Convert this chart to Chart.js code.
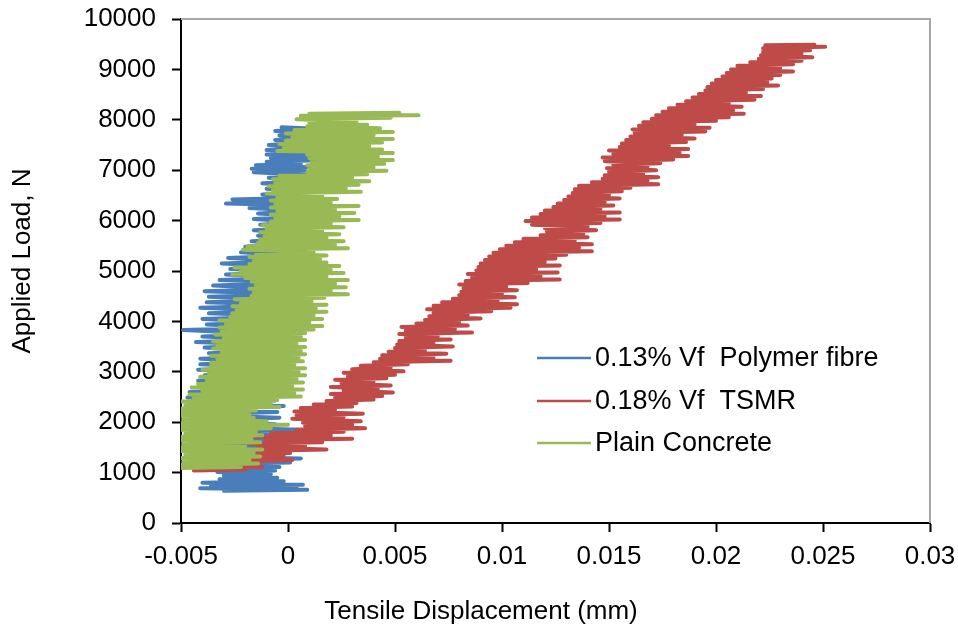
<!DOCTYPE html>
<html>
<head>
<meta charset="utf-8">
<title>Applied load vs tensile displacement</title>
<script src="https://cdn.jsdelivr.net/npm/chart.js@4.4.0/dist/chart.umd.min.js"></script>
<style>
  html, body { margin: 0; padding: 0; background: #fff; }
  #wrap { width: 958px; height: 629px; }
</style>
</head>
<body>
<div id="wrap"><canvas id="loadChart" width="958" height="629"></canvas></div>
<script>
// axis ticks
const xTickValues = [-0.005, 0, 0.005, 0.01, 0.015, 0.02, 0.025, 0.03];
const xTickLabels = ['-0.005', '0', '0.005', '0.01', '0.015', '0.02', '0.025', '0.03'];
const yTickValues = [0, 1000, 2000, 3000, 4000, 5000, 6000, 7000, 8000, 9000, 10000];

const seriesNames = ['0.13% Vf  Polymer fibre', '0.18% Vf  TSMR', 'Plain Concrete'];
const xTitle = 'Tensile Displacement (mm)';
const yTitle = 'Applied Load, N';

// [tensile displacement (mm), applied load (N)]
const polymerFibre = [
  [-0.0030, 640], [0.0009, 660], [-0.0041, 690], [0.0004, 710], [-0.0036, 740], [0.0007, 760],
  [-0.0040, 800], [-0.0002, 830], [-0.0032, 870], [-0.0005, 900], [-0.0030, 940], [-0.0008, 970],
  [-0.0033, 1010], [-0.0006, 1040], [-0.0040, 1080], [-0.0004, 1110], [-0.0045, 1160], [0.0001, 1200],
  [-0.0042, 1240], [0.0006, 1280], [-0.0046, 1330], [-0.0002, 1370], [-0.0043, 1420], [-0.0004, 1460],
  [-0.0046, 1510], [-0.0002, 1550], [-0.0044, 1600], [-0.0005, 1640], [-0.0047, 1700], [-0.0003, 1750],
  [-0.0045, 1800], [0.0007, 1850], [-0.0048, 1910], [-0.0006, 1960], [-0.0046, 2040], [-0.0004, 2090],
  [-0.0047, 2150], [-0.0005, 2200], [-0.0045, 2260], [-0.0002, 2320], [-0.0046, 2380], [-0.0006, 2430],
  [-0.0047, 2490], [-0.0004, 2540], [-0.0046, 2600], [-0.0002, 2650], [-0.0040, 2710], [-0.0006, 2760],
  [-0.0042, 2820], [-0.0004, 2870], [-0.0039, 2930], [-0.0008, 2980], [-0.0042, 3040], [-0.0006, 3090],
  [-0.0041, 3150], [-0.0010, 3200], [-0.0041, 3260], [-0.0008, 3310], [-0.0037, 3370], [-0.0010, 3420],
  [-0.0039, 3480], [-0.0008, 3530], [-0.0043, 3590], [-0.0005, 3640], [-0.0040, 3700], [-0.0008, 3750],
  [-0.0049, 3830], [-0.0004, 3880], [-0.0038, 3940], [-0.0006, 3990], [-0.0040, 4050], [0.0001, 4100],
  [-0.0037, 4160], [-0.0002, 4210], [-0.0041, 4270], [0.0002, 4320], [-0.0038, 4380], [-0.0001, 4430],
  [-0.0037, 4490], [0.0004, 4540], [-0.0039, 4600], [0.0000, 4650], [-0.0035, 4710], [0.0006, 4760],
  [-0.0032, 4820], [0.0002, 4870], [-0.0029, 4930], [0.0005, 4980], [-0.0027, 5040], [0.0001, 5090],
  [-0.0031, 5150], [0.0006, 5200], [-0.0028, 5260], [0.0003, 5310], [-0.0022, 5370], [0.0008, 5420],
  [-0.0020, 5480], [0.0004, 5530], [-0.0017, 5590], [0.0010, 5640], [-0.0014, 5700], [0.0006, 5750],
  [-0.0016, 5810], [0.0011, 5860], [-0.0013, 5920], [0.0008, 5970], [-0.0016, 6030], [0.0012, 6080],
  [-0.0014, 6140], [0.0010, 6190], [-0.0018, 6250], [0.0013, 6300], [-0.0029, 6340], [0.0006, 6380],
  [-0.0026, 6420], [0.0012, 6460], [-0.0012, 6520], [0.0014, 6570], [-0.0010, 6630], [0.0010, 6680],
  [-0.0012, 6740], [0.0016, 6790], [-0.0009, 6850], [0.0012, 6900], [-0.0016, 6960], [0.0008, 6990],
  [-0.0017, 7030], [0.0010, 7060], [-0.0015, 7100], [0.0006, 7130], [-0.0010, 7170], [0.0018, 7200],
  [-0.0008, 7240], [0.0014, 7270], [-0.0010, 7310], [0.0018, 7340], [-0.0010, 7400], [0.0012, 7450],
  [-0.0009, 7500], [0.0010, 7550], [-0.0006, 7600], [0.0014, 7640], [-0.0004, 7690], [0.0012, 7730],
  [-0.0006, 7780], [0.0013, 7820], [-0.0003, 7850]
];

const tsmr = [
  [-0.0044, 1040], [-0.0020, 1060], [-0.0038, 1090], [-0.0012, 1110], [-0.0030, 1150], [-0.0014, 1180],
  [-0.0021, 1220], [0.0002, 1250], [-0.0018, 1290], [-0.0002, 1320], [-0.0020, 1360], [0.0001, 1390],
  [-0.0017, 1430], [0.0018, 1460], [-0.0014, 1500], [0.0008, 1530], [-0.0018, 1570], [0.0016, 1600],
  [-0.0010, 1640], [0.0030, 1670], [-0.0016, 1710], [0.0020, 1740], [-0.0008, 1780], [0.0026, 1810],
  [0.0004, 1850], [0.0036, 1880], [0.0008, 1920], [0.0030, 1950], [0.0007, 1990], [0.0034, 2020],
  [0.0002, 2070], [0.0026, 2100], [0.0004, 2140], [0.0035, 2170], [0.0003, 2210], [0.0022, 2240],
  [0.0006, 2280], [0.0030, 2310], [0.0012, 2350], [0.0032, 2380], [0.0018, 2420], [0.0040, 2450],
  [0.0022, 2490], [0.0044, 2520], [0.0020, 2560], [0.0049, 2590], [0.0026, 2630], [0.0042, 2660],
  [0.0020, 2700], [0.0048, 2730], [0.0025, 2770], [0.0040, 2800], [0.0022, 2840], [0.0046, 2870],
  [0.0028, 2910], [0.0050, 2940], [0.0026, 2980], [0.0054, 3010], [0.0030, 3050], [0.0048, 3080],
  [0.0034, 3120], [0.0056, 3150], [0.0040, 3190], [0.0076, 3220], [0.0043, 3260], [0.0068, 3290],
  [0.0044, 3330], [0.0074, 3360], [0.0047, 3400], [0.0064, 3430], [0.0050, 3470], [0.0077, 3500],
  [0.0051, 3540], [0.0068, 3570], [0.0052, 3610], [0.0076, 3640], [0.0055, 3680], [0.0070, 3710],
  [0.0052, 3750], [0.0086, 3780], [0.0055, 3820], [0.0078, 3850], [0.0053, 3890], [0.0084, 3920],
  [0.0060, 3960], [0.0080, 3990], [0.0064, 4030], [0.0090, 4060], [0.0066, 4100], [0.0084, 4130],
  [0.0068, 4170], [0.0095, 4200], [0.0065, 4240], [0.0104, 4270], [0.0068, 4310], [0.0107, 4340],
  [0.0072, 4380], [0.0098, 4410], [0.0077, 4450], [0.0106, 4480], [0.0080, 4520], [0.0100, 4550],
  [0.0081, 4590], [0.0107, 4620], [0.0082, 4660], [0.0102, 4690], [0.0080, 4730], [0.0112, 4760],
  [0.0083, 4800], [0.0127, 4830], [0.0086, 4870], [0.0118, 4900], [0.0084, 4940], [0.0126, 4970],
  [0.0088, 5010], [0.0116, 5040], [0.0089, 5080], [0.0127, 5110], [0.0090, 5150], [0.0120, 5180],
  [0.0092, 5220], [0.0125, 5250], [0.0094, 5290], [0.0130, 5320], [0.0096, 5360], [0.0142, 5390],
  [0.0099, 5430], [0.0136, 5460], [0.0102, 5500], [0.0142, 5530], [0.0106, 5570], [0.0134, 5600],
  [0.0110, 5640], [0.0140, 5670], [0.0118, 5710], [0.0138, 5740], [0.0121, 5780], [0.0144, 5810],
  [0.0120, 5850], [0.0140, 5880], [0.0114, 5920], [0.0146, 5950], [0.0111, 5990], [0.0155, 6020],
  [0.0114, 6060], [0.0148, 6090], [0.0118, 6130], [0.0155, 6160], [0.0120, 6200], [0.0146, 6230],
  [0.0124, 6270], [0.0152, 6300], [0.0126, 6340], [0.0148, 6370], [0.0129, 6410], [0.0155, 6440],
  [0.0131, 6480], [0.0150, 6510], [0.0133, 6550], [0.0156, 6580], [0.0134, 6620], [0.0160, 6650],
  [0.0136, 6690], [0.0173, 6720], [0.0142, 6760], [0.0168, 6790], [0.0147, 6830], [0.0173, 6860],
  [0.0148, 6900], [0.0166, 6930], [0.0150, 6970], [0.0172, 7000], [0.0149, 7040], [0.0168, 7070],
  [0.0152, 7110], [0.0174, 7140], [0.0148, 7180], [0.0180, 7210], [0.0147, 7250], [0.0187, 7280],
  [0.0152, 7320], [0.0183, 7350], [0.0150, 7390], [0.0187, 7420], [0.0155, 7460], [0.0178, 7490],
  [0.0156, 7530], [0.0186, 7560], [0.0158, 7600], [0.0190, 7630], [0.0160, 7670], [0.0184, 7700],
  [0.0162, 7740], [0.0195, 7770], [0.0161, 7810], [0.0197, 7840], [0.0164, 7880], [0.0190, 7910],
  [0.0166, 7950], [0.0200, 7980], [0.0170, 8020], [0.0206, 8050], [0.0172, 8090], [0.0213, 8120],
  [0.0175, 8160], [0.0208, 8190], [0.0178, 8230], [0.0212, 8260], [0.0182, 8300], [0.0206, 8330],
  [0.0186, 8370], [0.0218, 8400], [0.0189, 8440], [0.0221, 8470], [0.0192, 8510], [0.0214, 8540],
  [0.0195, 8580], [0.0222, 8610], [0.0196, 8650], [0.0229, 8680], [0.0198, 8720], [0.0224, 8750],
  [0.0200, 8790], [0.0226, 8820], [0.0203, 8860], [0.0230, 8890], [0.0205, 8930], [0.0236, 8960],
  [0.0207, 9000], [0.0230, 9030], [0.0210, 9070], [0.0236, 9100], [0.0216, 9140], [0.0240, 9170],
  [0.0220, 9210], [0.0245, 9240], [0.0221, 9280], [0.0240, 9310], [0.0222, 9350], [0.0244, 9380],
  [0.0222, 9420], [0.0251, 9450], [0.0223, 9480], [0.0246, 9490]
];

const plainConcrete = [
  [-0.0050, 1090], [-0.0022, 1110], [-0.0050, 1150], [-0.0014, 1180], [-0.0049, 1220], [-0.0018, 1250],
  [-0.0050, 1290], [-0.0013, 1320], [-0.0048, 1360], [-0.0016, 1390], [-0.0050, 1430], [-0.0012, 1460],
  [-0.0050, 1500], [-0.0020, 1530], [-0.0049, 1570], [-0.0013, 1600], [-0.0050, 1640], [-0.0017, 1670],
  [-0.0050, 1710], [-0.0012, 1740], [-0.0048, 1780], [-0.0015, 1810], [-0.0050, 1850], [-0.0008, 1880],
  [-0.0050, 1920], [0.0000, 1950], [-0.0050, 1990], [-0.0010, 2020], [-0.0049, 2060], [-0.0016, 2090],
  [-0.0050, 2130], [-0.0018, 2160], [-0.0050, 2200], [-0.0015, 2230], [-0.0050, 2270], [-0.0004, 2300],
  [-0.0048, 2340], [-0.0008, 2370], [-0.0050, 2410], [-0.0005, 2440], [-0.0044, 2480], [0.0006, 2510],
  [-0.0046, 2550], [0.0003, 2580], [-0.0040, 2620], [0.0007, 2650], [-0.0045, 2690], [0.0002, 2720],
  [-0.0042, 2760], [0.0007, 2790], [-0.0038, 2830], [0.0004, 2860], [-0.0041, 2900], [0.0008, 2930],
  [-0.0037, 2970], [0.0005, 3000], [-0.0040, 3040], [0.0008, 3070], [-0.0036, 3110], [0.0003, 3140],
  [-0.0036, 3180], [0.0007, 3210], [-0.0033, 3250], [0.0005, 3280], [-0.0036, 3320], [0.0008, 3350],
  [-0.0031, 3390], [0.0006, 3420], [-0.0035, 3460], [0.0008, 3490], [-0.0033, 3530], [0.0004, 3560],
  [-0.0035, 3600], [0.0008, 3630], [-0.0030, 3670], [0.0006, 3700], [-0.0034, 3740], [0.0008, 3770],
  [-0.0031, 3810], [0.0012, 3840], [-0.0032, 3880], [0.0016, 3910], [-0.0029, 3950], [0.0010, 3980],
  [-0.0032, 4020], [0.0016, 4050], [-0.0027, 4090], [0.0012, 4120], [-0.0026, 4160], [0.0018, 4190],
  [-0.0024, 4230], [0.0013, 4260], [-0.0026, 4300], [0.0018, 4330], [-0.0022, 4370], [0.0011, 4400],
  [-0.0025, 4440], [0.0017, 4470], [-0.0017, 4510], [0.0028, 4540], [-0.0016, 4580], [0.0020, 4610],
  [-0.0018, 4650], [0.0027, 4680], [-0.0015, 4720], [0.0022, 4750], [-0.0017, 4790], [0.0028, 4820],
  [-0.0020, 4860], [0.0018, 4890], [-0.0026, 4930], [0.0026, 4960], [-0.0022, 5000], [0.0020, 5030],
  [-0.0025, 5070], [0.0024, 5100], [-0.0018, 5140], [0.0018, 5170], [-0.0016, 5210], [0.0015, 5240],
  [-0.0018, 5280], [0.0018, 5310], [-0.0015, 5350], [0.0012, 5380], [-0.0021, 5420], [0.0028, 5450],
  [-0.0019, 5490], [0.0022, 5520], [-0.0014, 5560], [0.0026, 5590], [-0.0013, 5630], [0.0018, 5660],
  [-0.0011, 5700], [0.0024, 5730], [-0.0013, 5770], [0.0016, 5800], [-0.0010, 5840], [0.0026, 5870],
  [-0.0012, 5910], [0.0020, 5940], [-0.0008, 5980], [0.0033, 6010], [-0.0006, 6050], [0.0024, 6080],
  [-0.0008, 6120], [0.0031, 6150], [-0.0005, 6190], [0.0022, 6220], [-0.0008, 6260], [0.0033, 6290],
  [-0.0006, 6330], [0.0020, 6360], [-0.0008, 6400], [0.0023, 6430], [-0.0005, 6470], [0.0016, 6500],
  [-0.0010, 6540], [0.0034, 6570], [-0.0007, 6610], [0.0027, 6640], [-0.0009, 6680], [0.0033, 6710],
  [-0.0006, 6750], [0.0038, 6780], [-0.0007, 6820], [0.0030, 6850], [-0.0004, 6890], [0.0037, 6920],
  [0.0009, 6960], [0.0046, 6990], [0.0010, 7030], [0.0040, 7060], [0.0009, 7100], [0.0045, 7130],
  [0.0011, 7170], [0.0049, 7200], [0.0010, 7240], [0.0042, 7270], [0.0009, 7310], [0.0049, 7340],
  [-0.0005, 7380], [0.0044, 7410], [-0.0002, 7450], [0.0038, 7480], [-0.0004, 7520], [0.0044, 7550],
  [-0.0001, 7590], [0.0049, 7620], [0.0002, 7660], [0.0040, 7690], [-0.0001, 7730], [0.0049, 7760],
  [0.0003, 7800], [0.0043, 7830], [0.0009, 7870], [0.0037, 7900], [0.0010, 7940], [0.0032, 7970],
  [0.0004, 8010], [0.0048, 8040], [0.0006, 8080], [0.0061, 8090], [0.0010, 8120], [0.0052, 8140]
];

const seriesColors = ['#4a7ebb', '#be4b48', '#98b954'];
const fontFamily = '"Liberation Sans", Arial, sans-serif';
const tickFont = { family: fontFamily, size: 26 };

function toPoints(pairs) {
  return pairs.map(p => ({ x: p[0], y: p[1] }));
}

// gray plot frame on top/right, axis titles and a legend inside the plot like the Excel original
const frameAndLegend = {
  id: 'frameAndLegend',
  beforeDatasetsDraw(chart) {
    const { ctx, chartArea } = chart;
    ctx.save();
    ctx.strokeStyle = '#a6a6a6';
    ctx.lineWidth = 2;
    ctx.beginPath();
    ctx.moveTo(chartArea.left, chartArea.top);
    ctx.lineTo(chartArea.right, chartArea.top);
    ctx.lineTo(chartArea.right, chartArea.bottom);
    ctx.stroke();
    ctx.restore();
  },
  afterDraw(chart) {
    const { ctx, chartArea } = chart;
    ctx.save();
    ctx.fillStyle = '#000';
    ctx.textBaseline = 'middle';

    // axis titles (Excel puts them a little off the plot centre)
    ctx.font = '26px ' + fontFamily;
    ctx.textAlign = 'center';
    ctx.fillText(xTitle, chartArea.left + 300, 612);
    ctx.save();
    ctx.translate(23, chartArea.top + 242);
    ctx.rotate(-Math.PI / 2);
    ctx.fillText(yTitle, 0, 0);
    ctx.restore();

    // legend
    const x0 = chartArea.left + 356;
    const rows = [358, 401, 443];
    ctx.font = '27px ' + fontFamily;
    ctx.textAlign = 'left';
    chart.data.datasets.forEach((ds, i) => {
      ctx.strokeStyle = ds.borderColor;
      ctx.lineWidth = 2.5;
      ctx.beginPath();
      ctx.moveTo(x0, rows[i]);
      ctx.lineTo(x0 + 54, rows[i]);
      ctx.stroke();
      ctx.fillText(ds.label, x0 + 58, rows[i] + 1);
    });
    ctx.restore();
  }
};

const ctx = document.getElementById('loadChart').getContext('2d');
Chart.defaults.color = '#000';
Chart.defaults.font.family = fontFamily;

new Chart(ctx, {
  type: 'scatter',
  data: {
    datasets: [
      { label: seriesNames[0], data: toPoints(polymerFibre), borderColor: seriesColors[0], order: 2 },
      { label: seriesNames[1], data: toPoints(tsmr), borderColor: seriesColors[1], order: 1 },
      { label: seriesNames[2], data: toPoints(plainConcrete), borderColor: seriesColors[2], order: 0 }
    ].map(ds => Object.assign(ds, {
      showLine: true,
      pointRadius: 0,
      pointHoverRadius: 0,
      borderWidth: 4,
      tension: 0,
      borderJoinStyle: 'round',
      borderCapStyle: 'round',
      backgroundColor: ds.borderColor
    }))
  },
  options: {
    responsive: false,
    animation: false,
    devicePixelRatio: 1,
    layout: { padding: { left: 0, top: 19, right: 28, bottom: 0 } },
    plugins: {
      legend: { display: false },
      tooltip: { enabled: false }
    },
    scales: {
      x: {
        type: 'linear',
        min: -0.005,
        max: 0.03,
        afterBuildTicks: scale => { scale.ticks = xTickValues.map(v => ({ value: v })); },
        afterFit: scale => {
          scale.height = 106;
          scale.paddingLeft = 0;
          scale.paddingRight = 0;
        },
        ticks: {
          font: tickFont,
          padding: 9,
          maxRotation: 0,
          callback: (value, index) => xTickLabels[index]
        },
        grid: { drawOnChartArea: false, tickLength: 9, tickColor: '#000', tickWidth: 2 },
        border: { color: '#000', width: 2 }
      },
      y: {
        type: 'linear',
        min: 0,
        max: 10000,
        afterBuildTicks: scale => { scale.ticks = yTickValues.map(v => ({ value: v })); },
        afterFit: scale => {
          scale.width = 181;
          scale.paddingTop = 0;
          scale.paddingBottom = 0;
        },
        ticks: {
          font: tickFont,
          padding: 16,
          callback: value => String(value)
        },
        grid: { drawOnChartArea: false, tickLength: 9, tickColor: '#000', tickWidth: 2 },
        border: { color: '#000', width: 2 }
      }
    }
  },
  plugins: [frameAndLegend]
});
</script>
</body>
</html>
